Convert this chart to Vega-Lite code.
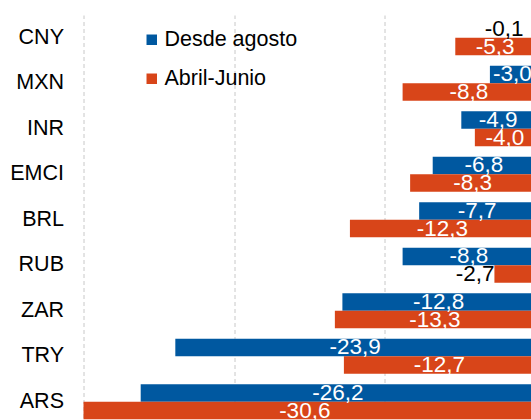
{
  "$schema": "https://vega.github.io/schema/vega-lite/v6.json",
  "autosize": {"type": "none"},
  "padding": {"left": 83.5, "top": 15, "right": 0, "bottom": 0},
  "width": 447.5,
  "height": 409.5,
  "config": {
    "view": {"stroke": null},
    "font": "Liberation Sans",
    "locale": {"number": {"decimal": ",", "thousands": ".", "grouping": [3], "currency": ["", ""], "minus": "-"}}
  },
  "data": {
    "values": [
      {"moneda": "CNY", "serie": "Desde agosto", "valor": -0.1},
      {"moneda": "CNY", "serie": "Abril-Junio", "valor": -5.3},
      {"moneda": "MXN", "serie": "Desde agosto", "valor": -3.0},
      {"moneda": "MXN", "serie": "Abril-Junio", "valor": -8.8},
      {"moneda": "INR", "serie": "Desde agosto", "valor": -4.9},
      {"moneda": "INR", "serie": "Abril-Junio", "valor": -4.0},
      {"moneda": "EMCI", "serie": "Desde agosto", "valor": -6.8},
      {"moneda": "EMCI", "serie": "Abril-Junio", "valor": -8.3},
      {"moneda": "BRL", "serie": "Desde agosto", "valor": -7.7},
      {"moneda": "BRL", "serie": "Abril-Junio", "valor": -12.3},
      {"moneda": "RUB", "serie": "Desde agosto", "valor": -8.8},
      {"moneda": "RUB", "serie": "Abril-Junio", "valor": -2.7},
      {"moneda": "ZAR", "serie": "Desde agosto", "valor": -12.8},
      {"moneda": "ZAR", "serie": "Abril-Junio", "valor": -13.3},
      {"moneda": "TRY", "serie": "Desde agosto", "valor": -23.9},
      {"moneda": "TRY", "serie": "Abril-Junio", "valor": -12.7},
      {"moneda": "ARS", "serie": "Desde agosto", "valor": -26.2},
      {"moneda": "ARS", "serie": "Abril-Junio", "valor": -30.6}
    ]
  },
  "encoding": {
    "y": {
      "field": "moneda", "type": "nominal",
      "sort": ["CNY", "MXN", "INR", "EMCI", "BRL", "RUB", "ZAR", "TRY", "ARS"],
      "scale": {"paddingInner": 0.23, "paddingOuter": 0.115},
      "axis": {"title": null, "ticks": false, "domain": false, "labelFontSize": 21.5, "labelColor": "#000", "labelPadding": 20, "labelFont": "Liberation Sans"}
    },
    "yOffset": {"field": "serie", "type": "nominal", "sort": ["Desde agosto", "Abril-Junio"]}
  },
  "layer": [
    {
      "mark": {"type": "bar", "clip": true},
      "encoding": {
        "x": {
          "field": "valor", "type": "quantitative",
          "scale": {"domain": [-30, -0.27], "nice": false, "zero": false},
          "axis": {"title": null, "labels": false, "ticks": false, "domain": false, "values": [-30, -20, -10], "grid": true, "gridDash": [4, 3], "gridColor": "#c8c8c8", "gridWidth": 1}
        },
        "x2": {"datum": 0},
        "color": {
          "field": "serie", "type": "nominal",
          "scale": {"domain": ["Desde agosto", "Abril-Junio"], "range": ["#0058A0", "#D84519"]},
          "legend": {"title": null, "orient": "none", "legendX": 57.5, "legendY": 14, "symbolType": "square", "symbolSize": 110, "symbolStrokeWidth": 0, "labelFontSize": 21.5, "labelColor": "#000", "labelOffset": 2, "rowPadding": 16, "padding": 0, "labelFont": "Liberation Sans"}
        }
      }
    },
    {
      "transform": [{"filter": "datum.valor <= -3"}, {"calculate": "datum.valor / 2", "as": "medio"}],
      "mark": {"type": "text", "color": "white", "fontSize": 22.5, "baseline": "middle", "align": "center"},
      "encoding": {
        "x": {"field": "medio", "type": "quantitative"},
        "text": {"field": "valor", "type": "quantitative", "format": ".1f"}
      }
    },
    {
      "transform": [{"filter": "datum.valor > -3 && datum.serie == 'Desde agosto'"}],
      "mark": {"type": "text", "color": "black", "fontSize": 22.5, "baseline": "middle", "align": "right", "dx": -10},
      "encoding": {
        "x": {"field": "valor", "type": "quantitative"},
        "text": {"field": "valor", "type": "quantitative", "format": ".1f"}
      }
    },
    {
      "transform": [{"filter": "datum.valor > -3 && datum.serie == 'Abril-Junio'"}],
      "mark": {"type": "text", "color": "black", "fontSize": 22.5, "baseline": "middle", "align": "right", "dx": 0},
      "encoding": {
        "x": {"field": "valor", "type": "quantitative"},
        "text": {"field": "valor", "type": "quantitative", "format": ".1f"}
      }
    }
  ]
}
